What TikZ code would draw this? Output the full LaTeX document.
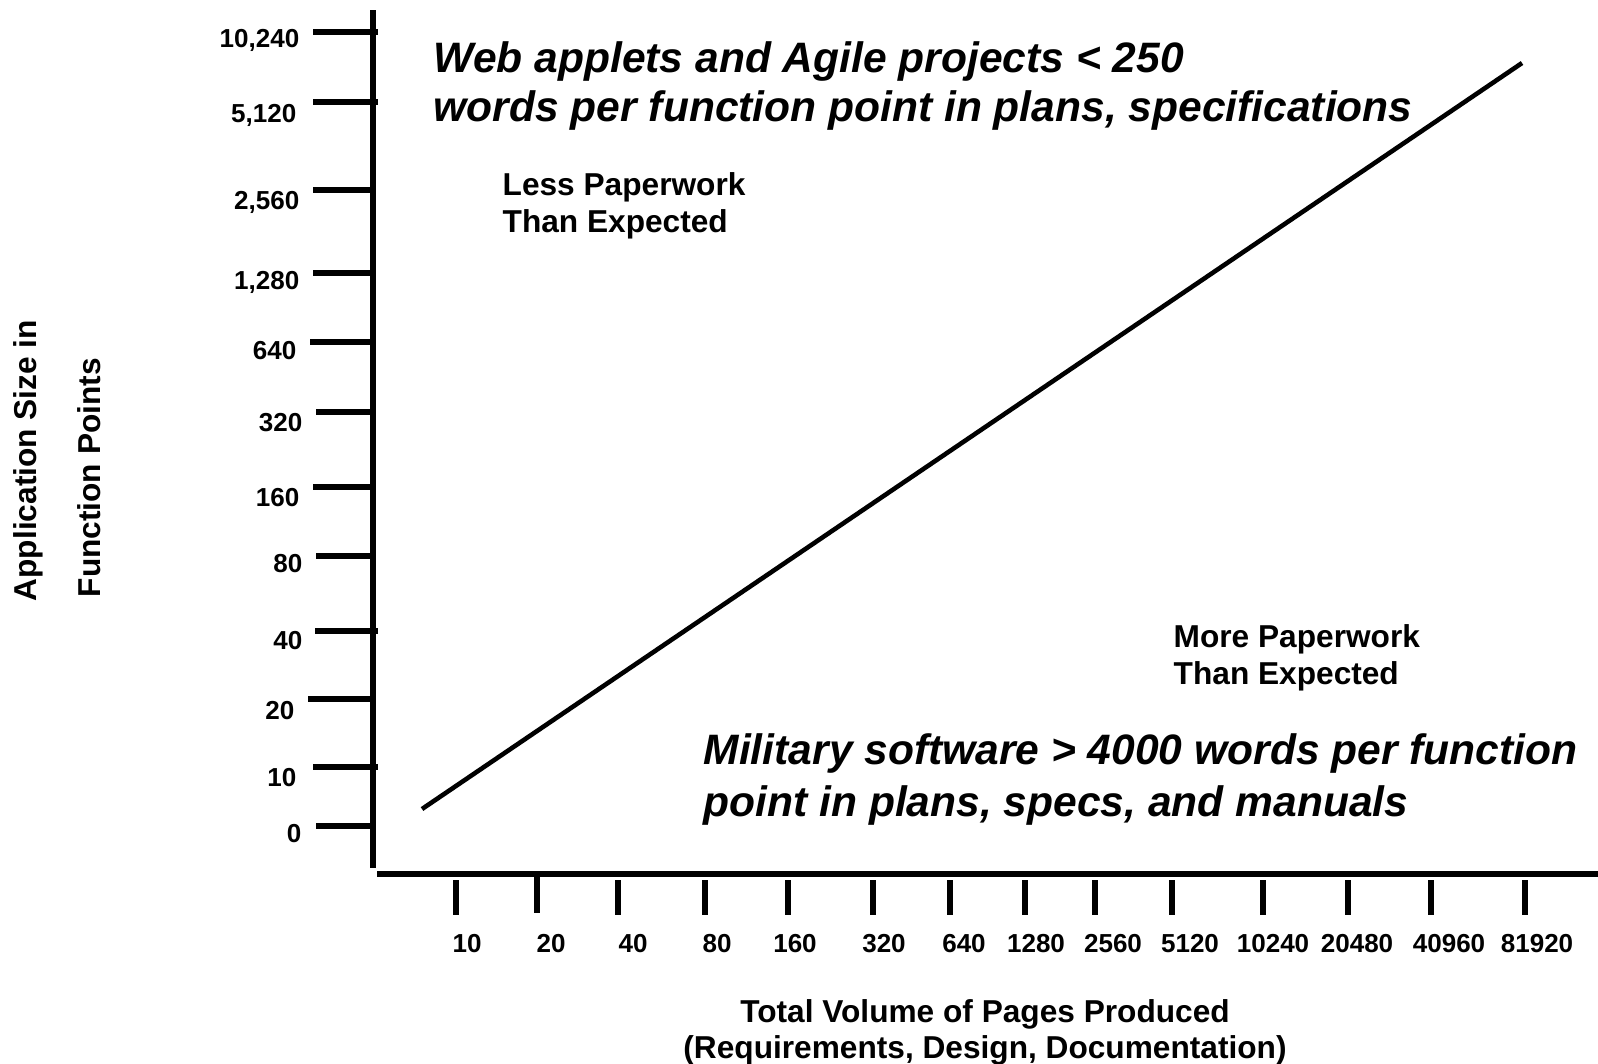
\documentclass[tikz,border=0pt]{standalone}
\usepackage{fontspec}
\setmainfont{Liberation Sans}
\begin{document}
\begin{tikzpicture}[x=0.01cm,y=-0.01cm,
		axis/.style={line width=1.45pt},
		ticklbl/.style={font=\fontsize{7.4}{9}\selectfont\bfseries,inner sep=0pt},
		note/.style={font=\fontsize{9}{10.5}\selectfont\bfseries,inner sep=0pt},
		claim/.style={font=\fontsize{12.1}{14}\selectfont\bfseries\itshape,inner sep=0pt}]
			\useasboundingbox (0,0) rectangle (1598,1063);
			\coordinate (T) at (373,10);
			\coordinate (O) at (373,868);
			\coordinate (L) at (377,874);
			\coordinate (R) at (1598,874);
			\coordinate (P) at (422,809);
			\coordinate (Q) at (1522,63);
			\draw [axis] (T) to (O);
			\draw [axis] (L) to (R);
			\draw [line width=1.3pt] (P) to (Q);
			% size axis, doubling steps
			\draw [axis] (313,32) to (378,32);
			\draw [axis] (313,102) to (378,102);
			\draw [axis] (313,190) to (373,190);
			\draw [axis] (313,273) to (373,273);
			\draw [axis] (310,342) to (373,342);
			\draw [axis] (316,412) to (373,412);
			\draw [axis] (313,487) to (373,487);
			\draw [axis] (316,556) to (373,556);
			\draw [axis] (315,631) to (378,631);
			\draw [axis] (308,699) to (373,699);
			\draw [axis] (313,767) to (378,767);
			\draw [axis] (316,826) to (373,826);
			\node [ticklbl,anchor=base east] (y10240) at (300,47) {10,240};
			\node [ticklbl,anchor=base east] (y5120) at (297,122) {5,120};
			\node [ticklbl,anchor=base east] (y2560) at (300,209) {2,560};
			\node [ticklbl,anchor=base east] (y1280) at (300,289) {1,280};
			\node [ticklbl,anchor=base east] (y640) at (297,359) {640};
			\node [ticklbl,anchor=base east] (y320) at (303,431) {320};
			\node [ticklbl,anchor=base east] (y160) at (300,506) {160};
			\node [ticklbl,anchor=base east] (y80) at (303,572) {80};
			\node [ticklbl,anchor=base east] (y40) at (303,649) {40};
			\node [ticklbl,anchor=base east] (y20) at (295,719) {20};
			\node [ticklbl,anchor=base east] (y10) at (297,786) {10};
			\node [ticklbl,anchor=base east] (y0) at (302,842) {0};
			% page axis
			\draw [axis] (456,880) to (456,915);
			\draw [axis] (537,877) to (537,913);
			\draw [axis] (618,880) to (618,915);
			\draw [axis] (705,880) to (705,915);
			\draw [axis] (788,880) to (788,915);
			\draw [axis] (873,880) to (873,915);
			\draw [axis] (950,880) to (950,915);
			\draw [axis] (1025,880) to (1025,915);
			\draw [axis] (1095,880) to (1095,915);
			\draw [axis] (1172,880) to (1172,915);
			\draw [axis] (1263,880) to (1263,915);
			\draw [axis] (1348,880) to (1348,915);
			\draw [axis] (1431,880) to (1431,915);
			\draw [axis] (1525,880) to (1525,915);
			\node [ticklbl,anchor=base] (x10) at (467,952) {10};
			\node [ticklbl,anchor=base] (x20) at (551,952) {20};
			\node [ticklbl,anchor=base] (x40) at (633,952) {40};
			\node [ticklbl,anchor=base] (x80) at (717,952) {80};
			\node [ticklbl,anchor=base] (x160) at (795,952) {160};
			\node [ticklbl,anchor=base] (x320) at (884,952) {320};
			\node [ticklbl,anchor=base] (x640) at (964,952) {640};
			\node [ticklbl,anchor=base] (x1280) at (1036,952) {1280};
			\node [ticklbl,anchor=base] (x2560) at (1113,952) {2560};
			\node [ticklbl,anchor=base] (x5120) at (1190,952) {5120};
			\node [ticklbl,anchor=base] (x10240) at (1273,952) {10240};
			\node [ticklbl,anchor=base] (x20480) at (1357,952) {20480};
			\node [ticklbl,anchor=base] (x40960) at (1449,952) {40960};
			\node [ticklbl,anchor=base] (x81920) at (1537,952) {81920};
			% axis titles
			\node [note,anchor=base west,rotate=90] (ytitleA) at (37,602) {Application Size in};
			\node [note,anchor=base west,rotate=90] (ytitleB) at (100,598) {Function Points};
			\node [note,anchor=base] (xtitleA) at (985,1022) {Total Volume of Pages Produced};
			\node [note,anchor=base] (xtitleB) at (985,1058) {(Requirements, Design, Documentation)};
			% regions either side of the line
			\node [note,anchor=base west] (lessA) at (502,195) {Less Paperwork};
			\node [note,anchor=base west] (lessB) at (502,232) {Than Expected};
			\node [note,anchor=base west] (moreA) at (1173,647) {More Paperwork};
			\node [note,anchor=base west] (moreB) at (1173,684) {Than Expected};
			\node [claim,anchor=base west] (webA) at (433,72) {Web applets and Agile projects < 250};
			\node [claim,anchor=base west] (webB) at (433,121) {words per function point in plans, specifications};
			\node [claim,anchor=base west] (milA) at (703,764) {Military software > 4000 words per function};
			\node [claim,anchor=base west] (milB) at (703,816) {point in plans, specs, and manuals};
		\end{tikzpicture}
\end{document}
